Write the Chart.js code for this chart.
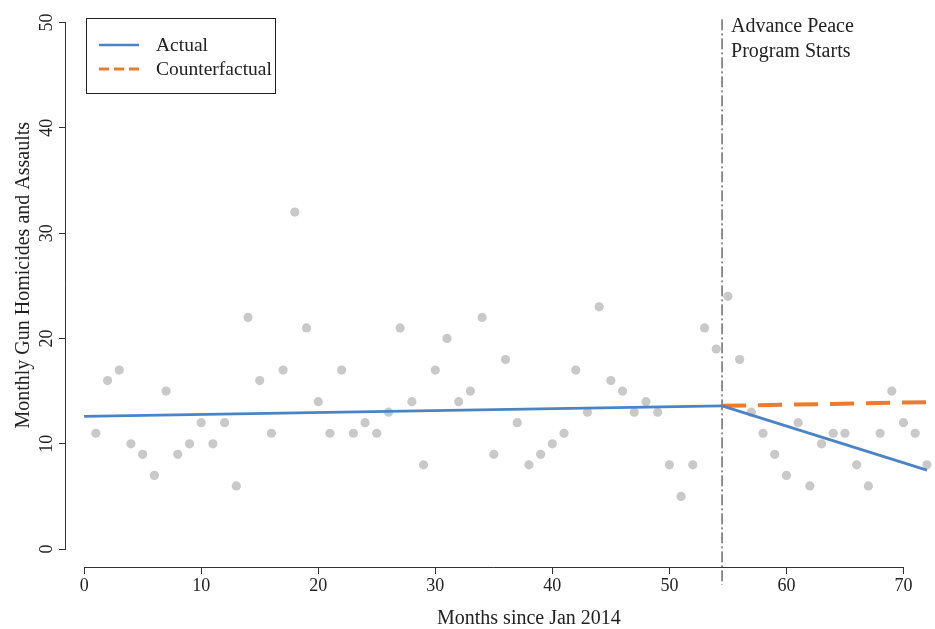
<!DOCTYPE html>
<html><head><meta charset="utf-8">
<script src="https://cdn.jsdelivr.net/npm/chart.js@4.4.1/dist/chart.umd.min.js"></script>
<style>html,body{margin:0;padding:0;background:#fff}#wrap{width:935px;height:629px}</style>
</head><body><div id="wrap"><canvas id="c" width="935" height="629"></canvas></div>
<script>
// ---- data ----
const months = [1,2,3,4,5,6,7,8,9,10,11,12,13,14,15,16,17,18,19,20,21,22,23,24,25,26,27,28,29,30,31,32,33,34,35,36,
  37,38,39,40,41,42,43,44,45,46,47,48,49,50,51,52,53,54,55,56,57,58,59,60,61,62,63,64,65,66,67,68,69,70,71,72];
const counts = [11,16,17,10,9,7,15,9,10,12,10,12,6,22,16,11,17,32,21,14,11,17,11,12,11,13,21,14,8,17,20,14,15,22,9,18,
  12,8,9,10,11,17,13,23,16,15,13,14,13,8,5,8,21,19,24,18,13,11,9,7,12,6,10,11,11,8,6,11,15,12,11,8];
const actualPreX = [0, 54.5];
const actualPreY = [12.6, 13.6];
const actualPostX = [54.5, 72];
const actualPostY = [13.6, 7.5];
const counterX = [54.5, 72];
const counterY = [13.6, 13.95];
const programStart = 54.5;
const xTickValues = [0, 10, 20, 30, 40, 50, 60, 70];
const yTickValues = [0, 10, 20, 30, 40, 50];
const seriesNames = ['Actual', 'Counterfactual'];
const annotationText = ['Advance Peace', 'Program Starts'];
const xTitle = 'Months since Jan 2014';
const yTitle = 'Monthly Gun Homicides and Assaults';

// ---- styles ----
const BLUE = '#4a84c4';
const ORANGE = '#ee7a2c';
const GRAY = '#c9c9c9';
const INK = '#222222';
const SERIF = '"Liberation Serif", "DejaVu Serif", serif';

const pts = (xs, ys) => xs.map((x, i) => ({x, y: ys[i]}));

const axesPlugin = {
  id: 'rAxes',
  afterDraw(chart) {
    const {ctx, chartArea: ca, scales: {x, y}} = chart;
    ctx.save();
    ctx.strokeStyle = '#333';
    ctx.lineWidth = 1;
    // x axis line (first to last tick)
    const yb = Math.round(ca.bottom) + 0.5;
    ctx.beginPath();
    ctx.moveTo(x.getPixelForValue(xTickValues[0]), yb);
    ctx.lineTo(x.getPixelForValue(xTickValues[xTickValues.length - 1]), yb);
    ctx.stroke();
    // y axis line
    const xl = Math.round(ca.left) - 0.5;
    ctx.beginPath();
    ctx.moveTo(xl, y.getPixelForValue(yTickValues[0]));
    ctx.lineTo(xl, y.getPixelForValue(yTickValues[yTickValues.length - 1]));
    ctx.stroke();
    // y tick labels rotated
    ctx.fillStyle = INK;
    ctx.font = '18px ' + SERIF;
    ctx.textAlign = 'center';
    ctx.textBaseline = 'middle';
    yTickValues.forEach(v => {
      ctx.save();
      ctx.translate(47, y.getPixelForValue(v));
      ctx.rotate(-Math.PI / 2);
      ctx.fillText(String(v), 0, 0);
      ctx.restore();
    });
    // y title
    ctx.font = '20px ' + SERIF;
    ctx.save();
    ctx.translate(24, y.getPixelForValue(26));
    ctx.rotate(-Math.PI / 2);
    ctx.fillText(yTitle, 0, 0);
    ctx.restore();
    // x title
    ctx.fillText(xTitle, x.getPixelForValue(38), 619);
    // annotation
    ctx.textAlign = 'left';
    const ax = x.getPixelForValue(programStart) + 9;
    ctx.fillText(annotationText[0], ax, 27);
    ctx.fillText(annotationText[1], ax, 52);
    // legend
    ctx.strokeStyle = '#222';
    ctx.lineWidth = 1;
    ctx.strokeRect(86.5, 18.5, 189, 75);
    ctx.lineWidth = 2.7;
    ctx.strokeStyle = BLUE;
    ctx.beginPath(); ctx.moveTo(99, 45); ctx.lineTo(139, 45); ctx.stroke();
    ctx.strokeStyle = ORANGE;
    ctx.lineWidth = 3;
    ctx.setLineDash([10, 5]);
    ctx.beginPath(); ctx.moveTo(99, 69); ctx.lineTo(140, 69); ctx.stroke();
    ctx.setLineDash([]);
    ctx.fillStyle = INK;
    ctx.font = '19.5px ' + SERIF;
    ctx.fillText(seriesNames[0], 156, 46);
    ctx.fillText(seriesNames[1], 156, 70);
    ctx.restore();
  }
};

new Chart(document.getElementById('c'), {
  type: 'scatter',
  data: {
    datasets: [
      {label: seriesNames[0], data: pts(actualPreX, actualPreY), showLine: true, borderColor: BLUE, borderWidth: 2.7, pointRadius: 0, order: 1},
      {label: seriesNames[0] + ' post', data: pts(actualPostX, actualPostY), showLine: true, borderColor: BLUE, borderWidth: 2.7, pointRadius: 0, order: 1},
      {label: seriesNames[1], data: pts(counterX, counterY), showLine: true, borderColor: ORANGE, borderWidth: 4, borderDash: [24, 12], pointRadius: 0, order: 1},
      {label: 'start', data: [{x: programStart, y: 50.3}, {x: programStart, y: -3.4}], showLine: true, borderColor: '#222', borderWidth: 1, borderDash: [11, 3, 2, 3], pointRadius: 0, clip: false, order: 2},
      {label: 'Monthly', data: pts(months, counts), pointRadius: 4.6, pointBackgroundColor: GRAY, pointBorderWidth: 0, borderWidth: 0, clip: false, order: 3}
    ]
  },
  options: {
    responsive: false,
    animation: false,
    devicePixelRatio: 1,
    layout: {padding: 0},
    plugins: {legend: {display: false}, tooltip: {enabled: false}},
    scales: {
      x: {
        type: 'linear', min: -1.55, max: 72.3,
        afterFit: s => { s.height = 62; },
        border: {display: false},
        grid: {display: true, drawOnChartArea: false, drawTicks: true, tickLength: 7, color: '#333'},
        ticks: {stepSize: 10, includeBounds: false, maxRotation: 0, padding: 1, color: INK, font: {family: SERIF, size: 18}}
      },
      y: {
        type: 'linear', min: -1.7, max: 51.7,
        afterFit: s => { s.width = 66; },
        border: {display: false},
        grid: {display: true, drawOnChartArea: false, drawTicks: true, tickLength: 7, color: '#333'},
        ticks: {stepSize: 10, includeBounds: false, display: false}
      }
    }
  },
  plugins: [axesPlugin]
});
</script></body></html>
